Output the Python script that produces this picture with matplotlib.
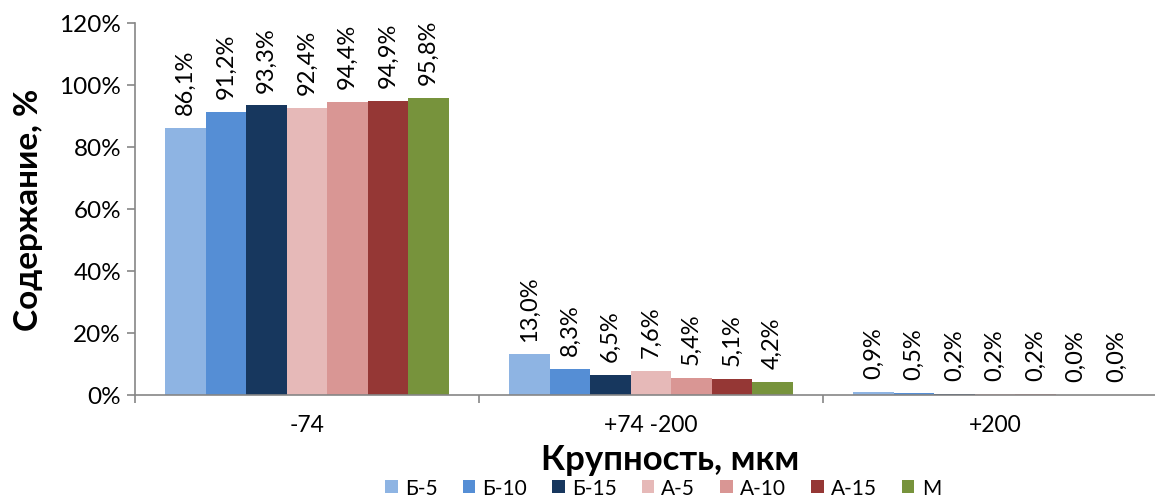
import numpy as np
import matplotlib
matplotlib.use("Agg")
import matplotlib.pyplot as plt
from matplotlib.ticker import FuncFormatter, FixedLocator

plt.rcParams['font.family'] = ['Lato', 'DejaVu Sans']

categories = ['-74', '+74 -200', '+200']
series = ['Б-5', 'Б-10', 'Б-15', 'А-5', 'А-10', 'А-15', 'М']
values = [
    [86.1, 13.0, 0.9],
    [91.2, 8.3, 0.5],
    [93.3, 6.5, 0.2],
    [92.4, 7.6, 0.2],
    [94.4, 5.4, 0.2],
    [94.9, 5.1, 0.0],
    [95.8, 4.2, 0.0],
]
colors = ['#8EB4E3', '#558ED5', '#17375E', '#E6B9B8', '#D99694', '#953735', '#77933C']

fig = plt.figure(figsize=(11.55, 5.02), dpi=100)
ax = fig.add_axes([135/1155, 1-395.7/502, 3*344/1155, 372/502])

n = len(series)
bw = 0.1177
x = np.arange(len(categories)) + 0.5
for i, (name, vals, c) in enumerate(zip(series, values, colors)):
    pos = x + (i - (n-1)/2) * bw
    ax.bar(pos, vals, width=bw, color=c, label=name, linewidth=0)
    for p, v in zip(pos, vals):
        ax.annotate(f"{v:.1f}%".replace('.', ','), (p, v), xytext=(0, 10),
                    textcoords='offset points', rotation=90,
                    ha='center', va='bottom', fontsize=17)

ax.set_xlim(0, 3)
ax.set_ylim(0, 120)
ax.set_yticks(np.arange(0, 121, 20))
ax.yaxis.set_major_formatter(FuncFormatter(lambda v, _: f"{v:.0f}%"))
ax.xaxis.set_major_locator(FixedLocator([0, 1, 2, 3]))
ax.xaxis.set_major_formatter(FuncFormatter(lambda v, _: ''))
ax.xaxis.set_minor_locator(FixedLocator(x))
ax.set_xticklabels(categories, minor=True)
ax.tick_params(axis='x', which='minor', length=0, pad=14, labelsize=16.5)
ax.tick_params(axis='x', which='major', length=6, color='#868686', width=1.2)
ax.tick_params(axis='y', length=6, color='#868686', width=1.2, labelsize=17.5, pad=4)

for s in ['top', 'right']:
    ax.spines[s].set_visible(False)
for s in ['left', 'bottom']:
    ax.spines[s].set_color('#868686')
    ax.spines[s].set_linewidth(1.2)

ax.set_ylabel('Содержание, %', fontsize=24, fontweight='bold', labelpad=12)
fig.text(670/1155, 1-460/502, 'Крупность, мкм', fontsize=25, fontweight='bold',
         ha='center', va='center')

fig.legend(loc='center', bbox_to_anchor=(663/1155, 1-489/502), ncol=7, frameon=False,
           fontsize=15, handlelength=0.6, handleheight=0.6, handletextpad=0.35,
           columnspacing=1.2)

fig.savefig('out.png', dpi=100)
